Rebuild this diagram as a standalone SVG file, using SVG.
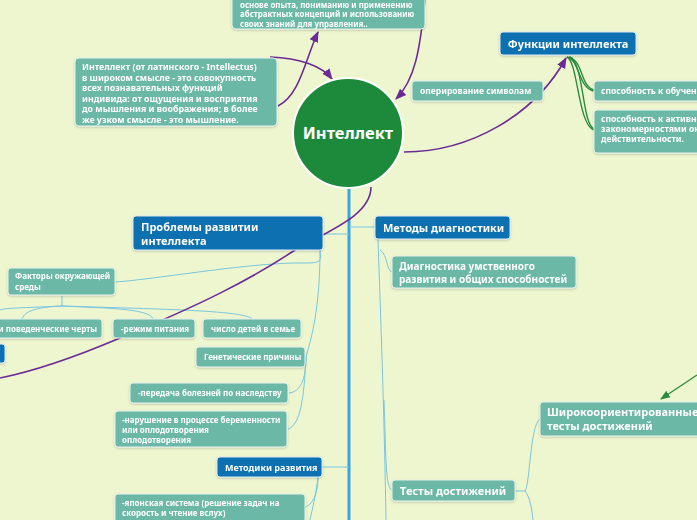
<svg xmlns="http://www.w3.org/2000/svg" width="697" height="520" viewBox="0 0 697 520">
<defs>
<style>
.bg{fill:#eef6d0}
.teal{fill:#6ab8a5;stroke:#e8f3ee;stroke-width:1}
.blue{fill:#0a6fb0;stroke:#dceaf5;stroke-width:1}
.t{font-family:"Noto Sans","DejaVu Sans",sans-serif;font-weight:bold;fill:#fff}
.s{font-size:8.5px}
.m{font-size:11px}
.lc{fill:none;stroke:#79c6df;stroke-width:1}
.pu{fill:none;stroke:#6a2c93;stroke-width:1.6}
.gr{fill:none;stroke:#2a8c3c;stroke-width:1.4}
</style>
<marker id="ap" viewBox="0 0 10 10" refX="9" refY="5" markerWidth="7" markerHeight="7" orient="auto"><path d="M0,1 L10,5 L0,9 z" fill="#6a2c93"/></marker>
<marker id="ag" viewBox="0 0 10 10" refX="9" refY="5" markerWidth="7" markerHeight="7" orient="auto"><path d="M0,1 L10,5 L0,9 z" fill="#2a8c3c"/></marker>
<filter id="sh" x="-10%" y="-10%" width="120%" height="130%"><feDropShadow dx="0" dy="1" stdDeviation="1" flood-color="#000" flood-opacity="0.2"/></filter>
</defs>
<rect class="bg" x="0" y="0" width="697" height="520"/>

<g id="connectors">
<line x1="349" y1="185" x2="349" y2="520" stroke="#38a4dc" stroke-width="3"/>
<path class="lc" d="M323,234 L349,234"/>
<path class="lc" d="M349,227 L375,227"/>
<path class="lc" d="M322,467 L349,467"/>
<path class="lc" d="M320,250 C322,262 320,263 305,263 L295,263 C240,264 150,280 115,282"/>
<path class="lc" d="M320,250 C320,300 314,330 306,357"/>
<path class="lc" d="M306,357 C306,380 300,392 289,393"/>
<path class="lc" d="M306,357 C304,400 300,425 288,429"/>
<path class="lc" d="M62,296 L62,306"/>
<path class="lc" d="M62,306 C40,307 25,310 22,319"/>
<path class="lc" d="M62,306 C20,308 5,308 0,310"/>
<path class="lc" d="M62,306 C100,308 150,308 153,319"/>
<path class="lc" d="M62,306 C150,309 245,310 252,319"/>
<path class="lc" d="M318,477 C318,495 312,505 305,507"/>
<path class="lc" d="M318,477 C316,495 312,510 310,520"/>
<path class="lc" d="M378,239 C380,300 384,400 386,520"/>
<path class="lc" d="M380,250 C388,255 386,270 392,272"/>
<path class="lc" d="M384,400 C386,450 385,488 392,490"/>
<path class="lc" d="M515,491 L525,491 C530,485 530,425 540,419"/>
<path class="lc" d="M525,491 C530,497 532,510 533,520"/>
<path class="pu" d="M278,106 C300,95 305,60 318,32" marker-end="url(#ap)"/>
<path class="pu" d="M270,57 C300,58 322,66 332,79" marker-end="url(#ap)"/>
<path class="pu" d="M425,0 C420,50 415,80 396,99" marker-end="url(#ap)"/>
<path class="pu" d="M404,152 C470,152 535,115 566,58" marker-end="url(#ap)"/>
<path class="pu" d="M371,187 C371,215 330,230 295,250 C250,280 200,305 120,338 C80,355 40,370 0,378"/>
<path class="gr" d="M567,57 C580,60 578,88 594,91"/>
<path class="gr" d="M569,57 C584,62 580,86 594,90"/>
<path class="gr" d="M567,57 C578,62 578,125 594,130"/>
<path class="gr" d="M570,57 C584,64 582,124 594,129"/>
<path class="gr" d="M697,375 L661,399" marker-end="url(#ag)"/>
</g>

<g id="center">
<circle cx="348" cy="133" r="55" fill="#1c8a3a" stroke="#ffffff" stroke-width="2"/>
<text class="t" x="348" y="139" font-size="16.5" text-anchor="middle">Интеллект</text>
</g>

<g id="top-def" filter="url(#sh)">
<rect class="teal" x="232" y="-40" width="193" height="69" rx="4"/>
<text class="t" font-size="7.9"><tspan x="240" y="7.5">основе опыта, пониманию и применению</tspan><tspan x="240" y="17">абстрактных концепций и использованию</tspan><tspan x="240" y="26.5">своих знаний для управления..</tspan></text>
</g>

<g id="left-def" filter="url(#sh)">
<rect class="teal" x="75" y="58" width="202" height="68" rx="4"/>
<text class="t" font-size="8.8"><tspan x="82" y="70">Интеллект (от латинского - Intellectus)</tspan><tspan x="82" y="80.5">в широком смысле - это совокупность</tspan><tspan x="82" y="91">всех познавательных функций</tspan><tspan x="82" y="101.5">индивида: от ощущения и восприятия</tspan><tspan x="82" y="112">до мышления и воображения; в более</tspan><tspan x="82" y="122.5">же узком смысле - это мышление.</tspan></text>
</g>

<g id="functions" filter="url(#sh)">
<rect class="blue" x="500" y="32" width="136" height="23" rx="3"/>
<text class="t m" x="568" y="47.5" text-anchor="middle">Функции интеллекта</text>
</g>

<g id="symbols" filter="url(#sh)">
<rect class="teal" x="412" y="81" width="131" height="20" rx="3"/>
<text class="t s" x="420" y="94">оперирование символам</text>
</g>

<g id="learn" filter="url(#sh)">
<rect class="teal" x="594" y="81" width="110" height="20" rx="3"/>
<text class="t s" x="601" y="94">способность к обучению</text>
</g>

<g id="active" filter="url(#sh)">
<rect class="teal" x="594" y="110" width="110" height="43" rx="3"/>
<text class="t s"><tspan x="601" y="122">способность к активному</tspan><tspan x="601" y="132">закономерностями окружающей</tspan><tspan x="601" y="142">действительности.</tspan></text>
</g>

<g id="problems" filter="url(#sh)">
<rect class="blue" x="133" y="216" width="190" height="34" rx="3"/>
<text class="t m"><tspan x="141" y="231">Проблемы развитии</tspan><tspan x="141" y="245">интеллекта</tspan></text>
</g>

<g id="methods" filter="url(#sh)">
<rect class="blue" x="375" y="216" width="135" height="23" rx="3"/>
<text class="t m" x="383" y="231.5">Методы диагностики</text>
</g>

<g id="diag" filter="url(#sh)">
<rect class="teal" x="392" y="256" width="184" height="32" rx="3"/>
<text class="t" font-size="10"><tspan x="399" y="270">Диагностика умственного</tspan><tspan x="399" y="283">развития и общих способностей</tspan></text>
</g>

<g id="env" filter="url(#sh)">
<rect class="teal" x="8" y="268" width="107" height="27" rx="3"/>
<text class="t" font-size="8"><tspan x="15" y="279">Факторы окружающей</tspan><tspan x="15" y="290">среды</tspan></text>
</g>

<g id="behav" filter="url(#sh)">
<rect class="teal" x="-20" y="319" width="122" height="19" rx="3"/>
<text class="t" font-size="8" x="97" y="331.5" text-anchor="end">и поведенческие черты</text>
</g>

<g id="food" filter="url(#sh)">
<rect class="teal" x="113" y="319" width="82" height="19" rx="3"/>
<text class="t" font-size="8" x="121" y="331.5">-режим питания</text>
</g>

<g id="children" filter="url(#sh)">
<rect class="teal" x="203" y="319" width="98" height="19" rx="3"/>
<text class="t" font-size="8" x="211" y="331.5">число детей в семье</text>
</g>

<g id="leftblue" filter="url(#sh)">
<rect class="blue" x="-20" y="344" width="25" height="19" rx="3"/>
</g>

<g id="genetic" filter="url(#sh)">
<rect class="teal" x="196" y="347" width="109" height="20" rx="3"/>
<text class="t" font-size="8" x="204" y="360">Генетические причины</text>
</g>

<g id="heredity" filter="url(#sh)">
<rect class="teal" x="130" y="383" width="158" height="20" rx="3"/>
<text class="t" font-size="8" x="138" y="396">-передача болезней по наследству</text>
</g>

<g id="pregnancy" filter="url(#sh)">
<rect class="teal" x="115" y="411" width="172" height="36" rx="3"/>
<text class="t" font-size="8"><tspan x="122" y="423">-нарушение в процессе беременности</tspan><tspan x="122" y="433">или оплодотворения</tspan><tspan x="122" y="443">оплодотворения</tspan></text>
</g>

<g id="devmethods" filter="url(#sh)">
<rect class="blue" x="217" y="457" width="105" height="20" rx="3"/>
<text class="t" font-size="9" x="225" y="470.5">Методики развития</text>
</g>

<g id="japan" filter="url(#sh)">
<rect class="teal" x="115" y="494" width="190" height="34" rx="3"/>
<text class="t" font-size="8"><tspan x="122" y="506">-японская система (решение задач на</tspan><tspan x="122" y="516">скорость и чтение вслух)</tspan></text>
</g>

<g id="tests" filter="url(#sh)">
<rect class="teal" x="392" y="480" width="123" height="21" rx="3"/>
<text class="t m" x="400" y="494.5">Тесты достижений</text>
</g>

<g id="broad" filter="url(#sh)">
<rect class="teal" x="540" y="402" width="165" height="34" rx="3"/>
<text class="t m"><tspan x="547" y="416">Широкоориентированные</tspan><tspan x="547" y="430">тесты достижений</tspan></text>
</g>
</svg>
